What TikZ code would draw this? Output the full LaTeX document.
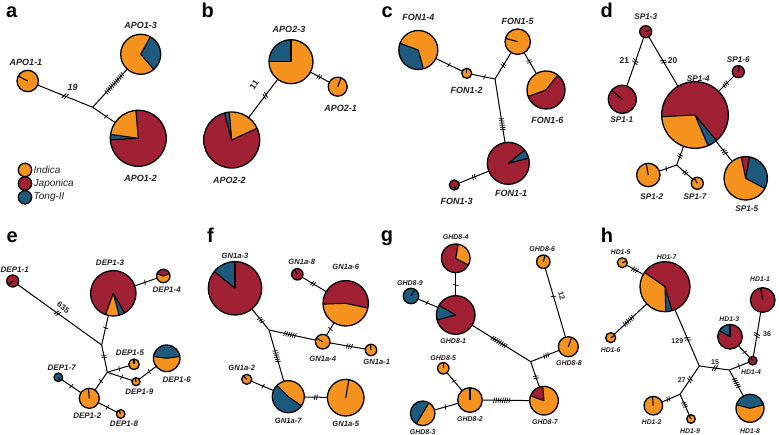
\documentclass[tikz,border=0pt]{standalone}
\usepackage{fontspec}
\setmainfont{Liberation Sans}
\usetikzlibrary{decorations.markings}
\definecolor{org}{RGB}{246,146,30}
\definecolor{jap}{RGB}{160,32,52}
\definecolor{ton}{RGB}{30,90,125}
\definecolor{txt}{RGB}{34,34,34}
\newcommand{\hap}[5]{%
  \coordinate (#1-c) at (#2,#3);
  \foreach \sa/\sb/\sc in {#5}{\fill[fill=\sc] (#1-c) -- ++(\sa:#4pt) arc[start angle=\sa, end angle=\sb, radius=#4pt] -- cycle;}
  \foreach \sa/\sb/\sc in {#5}{\draw[sline] (#1-c) -- ++(\sa:#4pt);}
  \node[hapc, minimum size=2*#4pt] (#1) at (#1-c) {};
}
\tikzset{
  hapc/.style={circle, draw=black, line width=1.3pt, inner sep=0pt, outer sep=0pt},
  sline/.style={line width=1.1pt, black},
  edge/.style={line width=1pt, black},
  tk/.style 2 args={postaction={decorate,decoration={markings,mark=at position #1 with {\foreach \i in {1,...,#2}{\draw[line width=0.7pt] ({(\i-(#2+1)/2)*2.2pt-0.5pt},-2.6pt) -- ++(1pt,5.2pt);}}}}},
  brk/.style={postaction={decorate,decoration={markings,mark=at position #1 with {\foreach \i in {-1,1}{\draw[line width=0.8pt] ({\i*1.2pt-1.2pt},-3pt) -- ++(2.4pt,6pt);}}}}},
  lbl/.style={font=\fontsize{#1}{#1}\selectfont\bfseries\itshape, text=txt, inner sep=0pt},
  num/.style={font=\fontsize{#1}{#1}\selectfont\bfseries, text=txt, inner sep=0pt},
  pan/.style={font=\fontsize{20}{20}\selectfont\bfseries, text=black, inner sep=0pt, anchor=base west},
  leg/.style={font=\fontsize{10}{10}\selectfont\itshape, text=txt, inner sep=0pt, anchor=west},
}
\begin{document}
\begin{tikzpicture}[x=1pt,y=-1pt]
\useasboundingbox (0,0) rectangle (779,435);
\fill[white] (0,0) rectangle (779,435);
% panel letters
\node[pan] (pa) at (6,17.5) {a};
\node[pan] (pb) at (201.5,17.5) {b};
\node[pan] (pc) at (381.5,17.5) {c};
\node[pan] (pd) at (600.5,17.5) {d};
\node[pan] (pe) at (6.5,243) {e};
\node[pan] (pf) at (207,243) {f};
\node[pan] (pg) at (380.7,241.5) {g};
\node[pan] (ph) at (600.7,243) {h};

% ---------- a ----------
\hap{a1}{27.7}{81}{10.7}{152/512/org}
\hap{a3}{140.7}{54.3}{20}{-49/61/ton, 61/311/org}
\hap{a2}{138.3}{138.3}{28}{95/172/org, 172/183/ton, 183/455/jap}
\coordinate (ja) at (92.7,107.3);
\draw[edge, brk=0.5] (a1) -- (ja);
\draw[edge, tk={0.63}{12}] (ja) -- (a3);
\draw[edge, tk={0.6}{1}] (ja) -- (a2);
\node[lbl=9] (la1) at (26,62.7) {APO1-1};
\node[lbl=9] (la3) at (140.7,25) {APO1-3};
\node[lbl=9] (la2) at (140.7,178.3) {APO1-2};
\node[num=9, font=\fontsize{9}{9}\selectfont\bfseries\itshape] (n19) at (72.7,87.3) {19};
\node[hapc, fill=org, minimum size=13.4pt] (lg1) at (25,170) {};
\node[hapc, fill=jap, minimum size=13.4pt] (lg2) at (25,183.5) {};
\node[hapc, fill=ton, minimum size=13.4pt] (lg3) at (25,197.3) {};
\node[leg] (lt1) at (33.5,170) {Indica};
\node[leg] (lt2) at (33.5,183.5) {Japonica};
\node[leg] (lt3) at (33.5,197.3) {Tong-II};

% ---------- b ----------
\hap{b3}{291}{61.7}{22}{90/180/ton, 180/450/org}
\hap{b1}{337.7}{86.7}{9.5}{70/430/org}
\hap{b2}{231.7}{140}{28}{25/95/org, 95/105/ton, 105/385/jap}
\draw[edge, brk=0.57] (b2) -- (b3);
\draw[edge, tk={0.47}{2}] (b3) -- (b1);
\node[lbl=9] (lb3) at (289,29.3) {APO2-3};
\node[lbl=9] (lb1) at (340.7,108.3) {APO2-1};
\node[lbl=9] (lb2) at (229.3,180) {APO2-2};
\node[num=8.5, rotate=53] (n11) at (254.3,85) {11};

% ---------- c ----------
\hap{c4}{418.3}{50}{19.5}{160/285/ton, 285/520/org}
\hap{c2}{466.7}{73.3}{5}{90/450/org}
\hap{c5}{517.7}{41.7}{12.7}{165/525/org}
\hap{c6}{546}{90}{19}{52/200/org, 200/412/jap}
\hap{c1}{508.3}{163.3}{21}{14/39/ton, 39/374/jap}
\hap{c3}{454.3}{185}{5}{-80/280/jap}
\coordinate (jc) at (495,79);
\draw[edge, tk={0.5}{1}] (c4) -- (c2);
\draw[edge, tk={0.55}{1}] (c2) -- (jc);
\draw[edge, tk={0.53}{2}] (jc) -- (c5);
\draw[edge, tk={0.42}{2}] (c5) -- (c6);
\draw[edge, tk={0.71}{6}] (jc) -- (c1);
\draw[edge, tk={0.5}{2}] (c1) -- (c3);
\node[lbl=9] (lc4) at (418.3,17.3) {FON1-4};
\node[lbl=9] (lc5) at (517.7,21.7) {FON1-5};
\node[lbl=9] (lc2) at (466.7,90.7) {FON1-2};
\node[lbl=9] (lc6) at (547.3,120) {FON1-6};
\node[lbl=9] (lc1) at (511,193.3) {FON1-1};
\node[lbl=9] (lc3) at (456.7,201.7) {FON1-3};

% ---------- d ----------
\hap{d3}{645.7}{31.7}{6}{25/385/jap}
\hap{d1}{622.3}{99.3}{14}{140/500/jap}
\hap{d4}{695}{115}{33.3}{183/293/org, 293/310/ton, 310/543/jap}
\hap{d6}{738.3}{71.7}{6}{80/440/jap}
\hap{d5}{745.7}{178.3}{21.7}{-28/80/ton, 80/102/jap, 102/332/org}
\hap{d2}{648.3}{175}{11.7}{100/460/org}
\hap{d7}{697.3}{183.3}{6}{120/480/org}
\coordinate (jd) at (676.7,165);
\draw[edge, brk=0.5] (d3) -- (d1);
\draw[edge, brk=0.5] (d3) -- (d4);
\draw[edge, tk={0.46}{3}] (d4) -- (d6);
\draw[edge, tk={0.52}{3}] (d4) -- (d5);
\draw[edge, tk={0.52}{2}] (d4) -- (jd);
\draw[edge, tk={0.6}{1}] (jd) -- (d2);
\draw[edge, tk={0.54}{2}] (jd) -- (d7);
\node[lbl=8.2] (ld3) at (645.7,16.7) {SP1-3};
\node[num=8.5] (n21) at (624.3,61) {21};
\node[num=8.5] (n20) at (672.5,61) {20};
\node[lbl=8.2] (ld6) at (738.3,59.3) {SP1-6};
\node[lbl=8.2] (ld4) at (698.3,78.3) {SP1-4};
\node[lbl=8.2] (ld1) at (621.7,120) {SP1-1};
\node[lbl=8.2] (ld2) at (651.7,196.7) {SP1-2};
\node[lbl=8.2] (ld7) at (695,196.7) {SP1-7};
\node[lbl=8.2] (ld5) at (746.7,208.3) {SP1-5};

% ---------- e ----------
\hap{e1}{12.7}{281}{6}{220/580/jap}
\hap{e3}{113.3}{293.3}{22.7}{250/285/org, 285/300/ton, 300/610/jap}
\hap{e4}{163.3}{276}{6.7}{20/160/jap, 160/380/org}
\hap{e5}{134}{364.3}{5.3}{90/450/org}
\hap{e9}{136}{381.7}{4}{100/460/org}
\hap{e6}{166.7}{358.3}{13.3}{8/172/ton, 172/368/org}
\hap{e7}{58.3}{377.3}{4.3}{300/660/ton}
\hap{e2}{89.3}{398.3}{10}{95/455/org}
\hap{e8}{120.7}{414}{4.3}{120/480/org}
\coordinate (je1) at (101.7,345);
\coordinate (je2) at (107.3,372.3);
\draw[edge, brk=0.475] (e1) -- (je1);
\draw[edge, tk={0.42}{1}] (e3) -- (je1);
\draw[edge, tk={0.43}{2}] (je1) -- (je2);
\draw[edge, tk={0.46}{1}] (e3) -- (e4);
\draw[edge, tk={0.55}{1}] (je2) -- (e5);
\draw[edge, tk={0.58}{1}] (je2) -- (e9);
\draw[edge, tk={0.6}{1}] (e9) -- (e6);
\draw[edge, tk={0.5}{1}] (je2) -- (e2);
\draw[edge, tk={0.49}{1}] (e7) -- (e2);
\draw[edge, tk={0.49}{1}] (e2) -- (e8);
\node[lbl=8] (le1) at (14.7,269.3) {DEP1-1};
\node[lbl=8] (le3) at (110,262.7) {DEP1-3};
\node[lbl=8] (le4) at (166.7,290) {DEP1-4};
\node[num=8, rotate=-36] (n635) at (63.3,307.7) {635};
\node[lbl=8] (le5) at (130,352.7) {DEP1-5};
\node[lbl=8] (le6) at (176.7,379.3) {DEP1-6};
\node[lbl=8] (le9) at (139.3,391.7) {DEP1-9};
\node[lbl=8] (le7) at (61.7,367.7) {DEP1-7};
\node[lbl=8] (le2) at (87.3,416) {DEP1-2};
\node[lbl=8] (le8) at (124,424) {DEP1-8};

% ---------- f ----------
\hap{f3}{235}{288.3}{26.7}{90/141/ton, 141/450/jap}
\hap{f8}{297.3}{274.3}{5.7}{120/480/jap}
\hap{f6}{345.7}{303.3}{22.7}{-12/182/jap, 182/348/org}
\hap{f4}{322.7}{341.7}{7.3}{150/510/org}
\hap{f1}{371}{350}{5.7}{95/455/org}
\hap{f2}{246.7}{379.3}{5}{130/490/org}
\hap{f7}{288.3}{396.7}{16}{-35/135/org, 135/325/ton}
\hap{f5}{345.7}{397.7}{18.3}{80/440/org}
\coordinate (jf) at (269,330);
\draw[edge, tk={0.53}{3}] (f3) -- (jf);
\draw[edge, tk={0.45}{6}] (jf) -- (f4);
\draw[edge, tk={0.51}{6}] (jf) -- (f7);
\draw[edge, tk={0.45}{2}] (f8) -- (f6);
\draw[edge, tk={0.49}{1}] (f6) -- (f4);
\draw[edge, tk={0.55}{3}] (f4) -- (f1);
\draw[edge, tk={0.53}{1}] (f2) -- (f7);
\draw[edge, tk={0.5}{2}] (f7) -- (f5);
\node[lbl=7.6] (lf3) at (235,255.7) {GN1a-3};
\node[lbl=7.6] (lf8) at (301.7,261.7) {GN1a-8};
\node[lbl=7.6] (lf6) at (345.7,266.7) {GN1a-6};
\node[lbl=7.6] (lf4) at (322.7,359) {GN1a-4};
\node[lbl=7.6] (lf1) at (376.7,361.7) {GN1a-1};
\node[lbl=7.6] (lf2) at (241.7,367.7) {GN1a-2};
\node[lbl=7.6] (lf7) at (288.3,421) {GN1a-7};
\node[lbl=7.6] (lf5) at (345.7,424.3) {GN1a-5};

% ---------- g ----------
\hap{g4}{455.7}{258.3}{14.3}{-28/80/org, 80/332/jap}
\hap{g9}{411}{296}{7.7}{60/420/ton}
\hap{g1}{455.7}{315}{19.3}{150/195/ton, 195/510/jap}
\hap{g6}{543.3}{261.7}{6.7}{75/435/org}
\hap{g8}{568.3}{346.7}{10}{70/430/org}
\hap{g5}{443.3}{368.3}{5.7}{90/450/org}
\hap{g2}{470}{400}{12.3}{90/450/org}
\hap{g3}{422.7}{413.3}{12.3}{59/239/ton, 239/419/org}
\hap{g7}{544}{400.7}{14.3}{95/160/jap, 160/455/org}
\coordinate (jg) at (530.7,361.7);
\draw[edge, tk={0.54}{1}] (g4) -- (g1);
\draw[edge, tk={0.45}{1}] (g9) -- (g1);
\draw[edge, tk={0.46}{8}] (g1) -- (jg);
\draw[edge, tk={0.41}{1}] (g6) -- (g8);
\draw[edge, tk={0.45}{3}] (g8) -- (jg);
\draw[edge, tk={0.61}{2}] (jg) -- (g7);
\draw[edge, tk={0.41}{8}] (g2) -- (g7);
\draw[edge, tk={0.47}{1}] (g5) -- (g2);
\draw[edge, tk={0.46}{1}] (g3) -- (g2);
\node[lbl=7] (lg4) at (455.7,236.7) {GHD8-4};
\node[lbl=7] (lg9) at (410,282.7) {GHD8-9};
\node[lbl=7] (lg1) at (453.3,341) {GHD8-1};
\node[lbl=7] (lg6) at (542.3,249.3) {GHD8-6};
\node[num=7.5, rotate=-74] (n12) at (561.7,296) {12};
\node[lbl=7] (lg8) at (569,363.3) {GHD8-8};
\node[lbl=7] (lg5) at (443.3,358.3) {GHD8-5};
\node[lbl=7] (lg2) at (470,419) {GHD8-2};
\node[lbl=7] (lg3) at (422.7,432) {GHD8-3};
\node[lbl=7] (lg7) at (545,421.7) {GHD8-7};

% ---------- h ----------
\hap{h5}{622.3}{262.7}{5}{20/380/org}
\hap{h7}{665}{286.7}{25}{145/272/org, 272/286/ton, 286/505/jap}
\hap{h6}{610.7}{337.7}{5}{30/390/org}
\hap{h1}{762.7}{300}{12.3}{100/460/jap}
\hap{h3}{730}{336.7}{12.3}{90/150/ton, 150/450/jap}
\hap{h4}{752.7}{360.7}{4.3}{120/480/jap}
\hap{h8}{750}{408.3}{14}{15/165/ton, 165/375/org}
\hap{h2}{653.3}{405.7}{9.3}{95/455/org}
\hap{h9}{691}{419}{4.3}{120/480/org}
\coordinate (jh1) at (699.3,366);
\coordinate (jh2) at (729.3,370);
\coordinate (jh3) at (680,394.3);
\draw[edge, tk={0.5}{3}] (h5) -- (h7);
\draw[edge, tk={0.44}{6}] (h6) -- (h7);
\draw[edge, brk=0.52] (h7) -- (jh1);
\draw[edge, brk=0.52] (jh1) -- (jh2);
\draw[edge, tk={0.5}{1}] (jh2) -- (h4);
\draw[edge, tk={0.55}{1}] (h3) -- (h4);
\draw[edge, brk=0.52] (h1) -- (h4);
\draw[edge, tk={0.5}{5}] (jh2) -- (h8);
\draw[edge, brk=0.48] (jh1) -- (jh3);
\draw[edge, tk={0.64}{2}] (jh3) -- (h2);
\draw[edge, tk={0.5}{3}] (jh3) -- (h9);
\node[lbl=6.8] (lh5) at (620.7,251.7) {HD1-5};
\node[lbl=6.8] (lh7) at (666.7,256.7) {HD1-7};
\node[lbl=6.8] (lh6) at (610.7,350) {HD1-6};
\node[lbl=6.8] (lh1) at (760,279.3) {HD1-1};
\node[lbl=6.8] (lh3) at (729.3,319.3) {HD1-3};
\node[num=7] (n36) at (767,334) {36};
\node[num=7] (n129) at (677.3,340.7) {129};
\node[num=7] (n15) at (715,361.7) {15};
\node[lbl=6.8] (lh4) at (751,371.7) {HD1-4};
\node[num=7] (n27) at (681.7,380) {27};
\node[lbl=6.8] (lh2) at (651.7,421.7) {HD1-2};
\node[lbl=6.8] (lh9) at (690,431) {HD1-9};
\node[lbl=6.8] (lh8) at (750,431) {HD1-8};
\end{tikzpicture}
\end{document}
